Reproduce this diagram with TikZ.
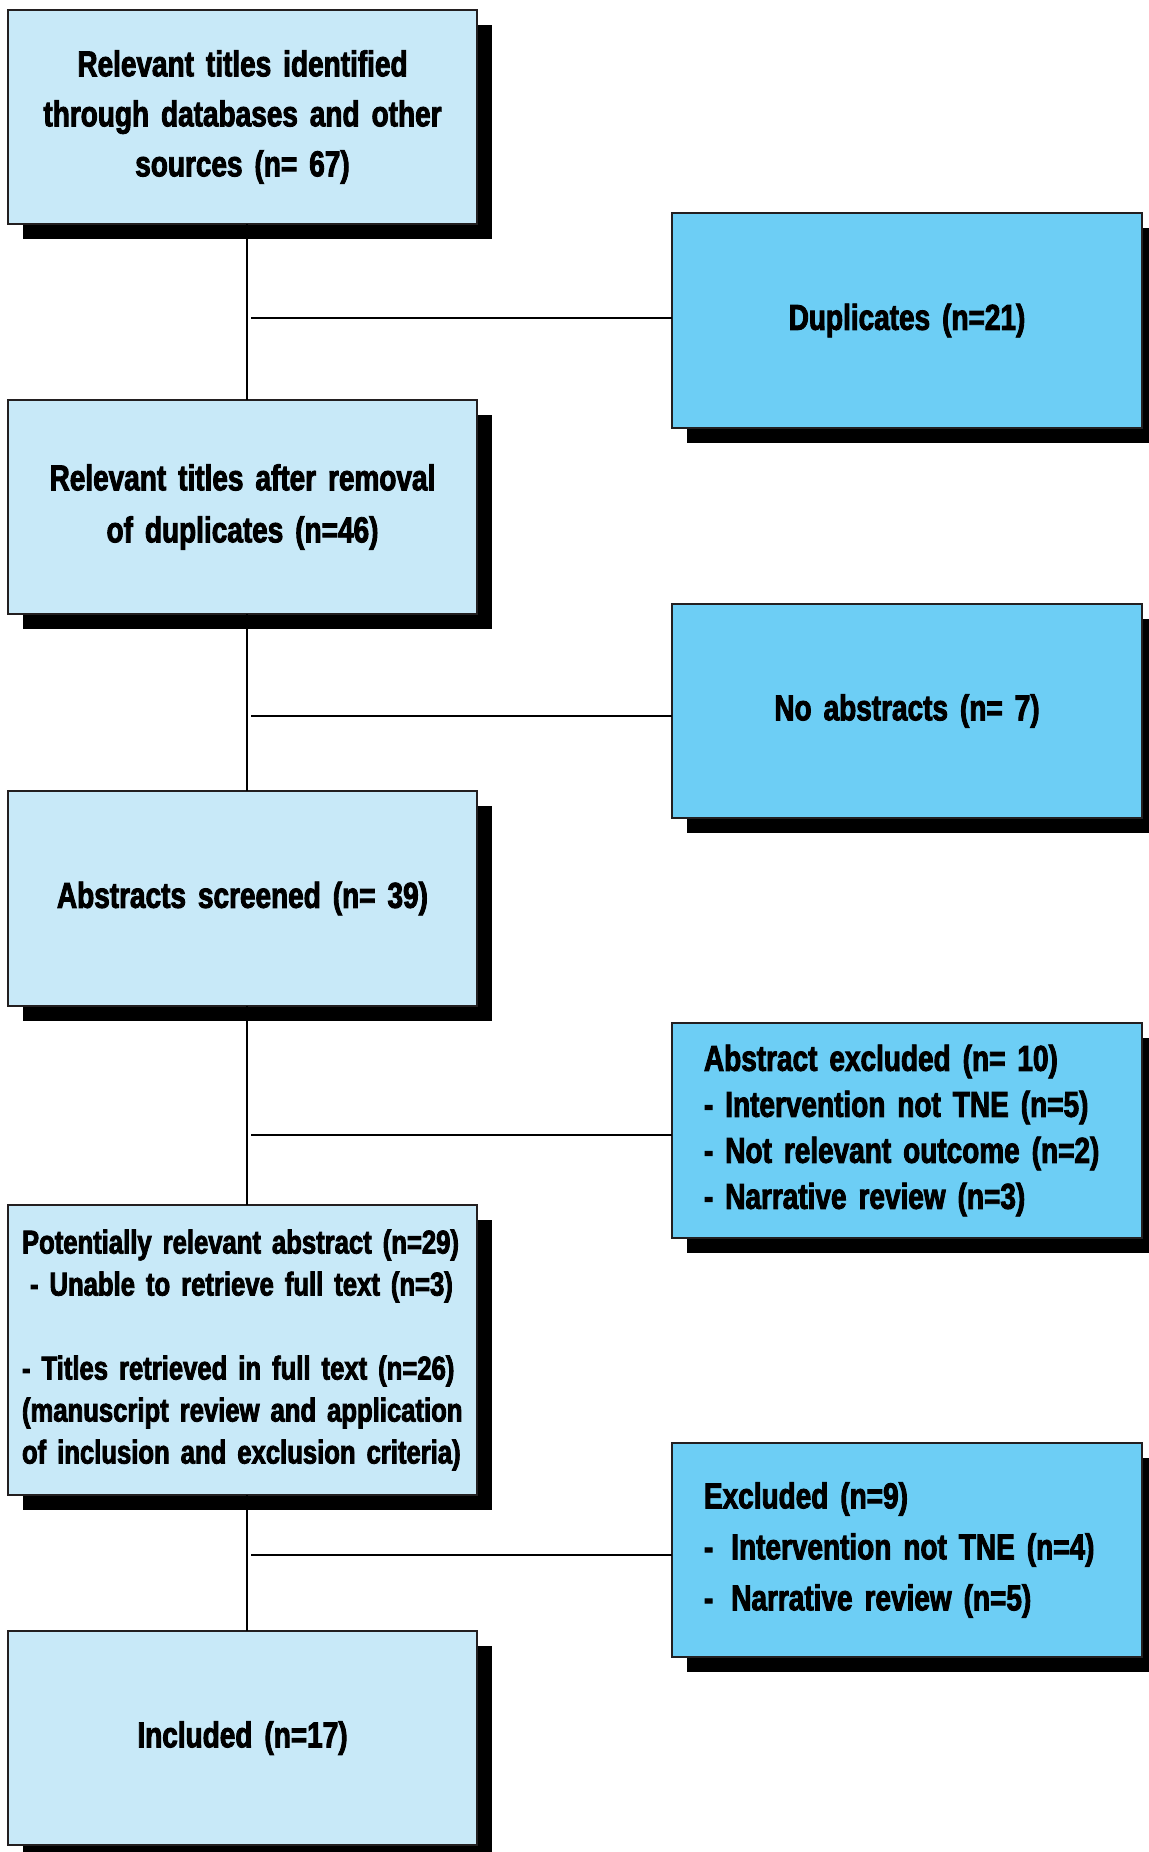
\documentclass[tikz,border=0pt]{standalone}
\usepackage{fontspec}
\setmainfont{Liberation Sans}[UprightFont={* Bold}, BoldFont={* Bold}, FakeStretch=0.777, FakeBold=2.5, WordSpace=0.6]
\usetikzlibrary{shadows}
\definecolor{lightbox}{HTML}{C8E9F8}
\definecolor{darkbox}{HTML}{6DCEF5}
\definecolor{edgecol}{HTML}{231F20}
\begin{document}
\begin{tikzpicture}[x=0.5pt,y=-0.5pt,
  box/.style={draw=edgecol, line width=0.75pt, inner sep=0pt, outer sep=0pt,
    anchor=north west, minimum width=234.5pt, minimum height=107pt,
    drop shadow={shadow xshift=7.5pt, shadow yshift=-7.5pt, fill=black, opacity=1}},
  lbox/.style={box, fill=lightbox},
  dbox/.style={box, fill=darkbox, minimum width=235pt},
  txt/.style={font=\fontsize{18pt}{#1}\selectfont},
  smalltxt/.style={font=\fontsize{16.5pt}{#1}\selectfont},
  link/.style={draw=black, line width=1pt}]
\useasboundingbox (0,0) rectangle (1148,1852);

% left column
\node[lbox, txt=25pt, text width=226pt, align=center] (b1) at (8,10)
  {Relevant titles identified\\through databases and other\\sources (n= 67)};
\node[lbox, txt=26pt, text width=226pt, align=center] (b2) at (8,400)
  {Relevant titles after removal\\of duplicates (n=46)};
\node[lbox, txt=26pt, text width=226pt, align=center, minimum height=107.5pt] (b3) at (8,791)
  {Abstracts screened (n= 39)};
\node[lbox, smalltxt=21pt, text width=220.5pt, align=left, minimum height=145pt] (b4) at (8,1205)
  {\mbox{Potentially relevant abstract (n=29)}\\\hspace*{4pt}\mbox{- Unable to retrieve full text (n=3)}\\[21pt]\mbox{- Titles retrieved in full text (n=26)}\\\mbox{(manuscript review and application}\\\mbox{of inclusion and exclusion criteria)}};
\node[lbox, txt=26pt, text width=226pt, align=center, minimum height=107pt] (b5) at (8,1631)
  {Included (n=17)};

% right column
\node[dbox, txt=26pt, text width=226pt, align=center, minimum height=107.5pt] (dup) at (672,213)
  {Duplicates (n=21)};
\node[dbox, txt=26pt, text width=226pt, align=center] (noabs) at (672,604)
  {No abstracts (n= 7)};
\node[dbox, txt=23pt, text width=203pt, align=left, minimum height=107.5pt] (absexc) at (672,1023)
  {Abstract excluded (n= 10)\\- Intervention not TNE (n=5)\\- Not relevant outcome (n=2)\\- Narrative review (n=3)};
\node[dbox, txt=25.5pt, text width=203pt, align=left] (exc) at (672,1443)
  {Excluded (n=9)\\-\hspace{9pt}Intervention not TNE (n=4)\\-\hspace{9pt}Narrative review (n=5)};

% vertical connectors
\draw[link] ([xshift=2.25pt]b1.south) -- ([xshift=2.25pt]b2.north);
\draw[link] ([xshift=2.25pt]b2.south) -- ([xshift=2.25pt]b3.north);
\draw[link] ([xshift=2.25pt]b3.south) -- ([xshift=2.25pt]b4.north);
\draw[link] ([xshift=2.25pt]b4.south) -- ([xshift=2.25pt]b5.north);

% side branches
\coordinate (j1) at (251,318);
\coordinate (j2) at (251,716);
\coordinate (j3) at (251,1135);
\coordinate (j4) at (251,1555);
\draw[link] (j1) -- (j1 -| dup.west);
\draw[link] (j2) -- (j2 -| noabs.west);
\draw[link] (j3) -- (j3 -| absexc.west);
\draw[link] (j4) -- (j4 -| exc.west);
\end{tikzpicture}
\end{document}
